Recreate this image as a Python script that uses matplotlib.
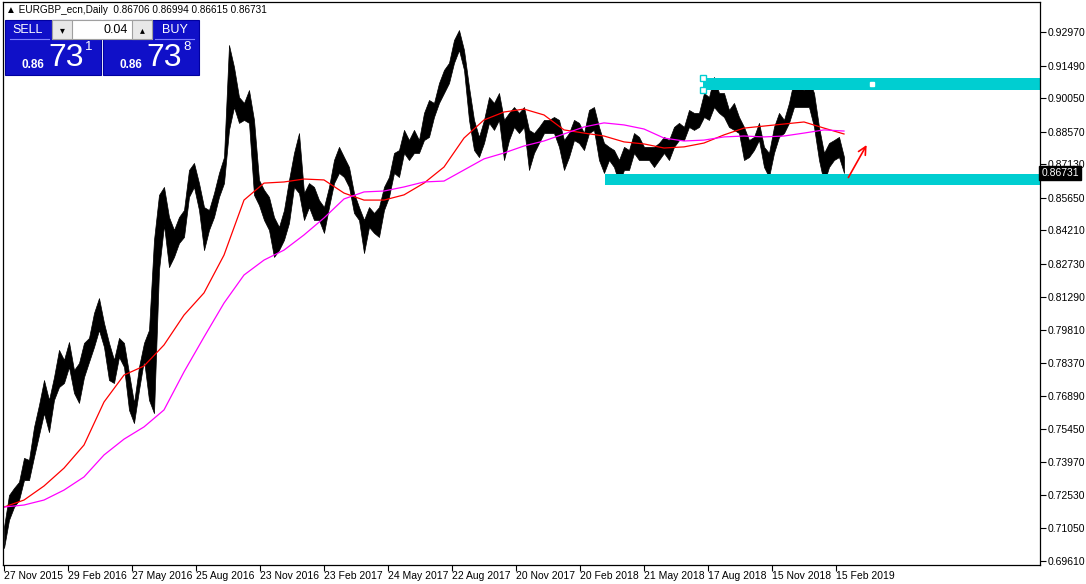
import numpy as np
import matplotlib
matplotlib.use('Agg')
import matplotlib.pyplot as plt
from matplotlib.patches import Rectangle

plt.rcParams['font.family'] = ['Liberation Sans', 'DejaVu Sans']

# EURGBP daily, sampled every 5 bars (high / low of each 5-bar block)
bars = np.arange(0, 845, 5)
high = [0.7111, 0.7252, 0.7283, 0.7310, 0.7416, 0.7407, 0.7552, 0.7650, 0.7760, 0.7672,
        0.7773, 0.7893, 0.7849, 0.7928, 0.7804, 0.7835, 0.7924, 0.7946, 0.8056, 0.8122,
        0.8012, 0.7924, 0.7849, 0.7946, 0.7924, 0.7791, 0.7659, 0.7818, 0.7924, 0.7981,
        0.8379, 0.8578, 0.8613, 0.8480, 0.8423, 0.8480, 0.8511, 0.8688, 0.8719, 0.8630,
        0.8524, 0.8511, 0.8586, 0.8675, 0.8745, 0.9240, 0.9143, 0.9010, 0.8984, 0.9041,
        0.8909, 0.8644, 0.8600, 0.8569, 0.8480, 0.8436, 0.8511, 0.8644, 0.8763, 0.8851,
        0.8586, 0.8630, 0.8613, 0.8555, 0.8524, 0.8613, 0.8732, 0.8790, 0.8745, 0.8701,
        0.8586, 0.8524, 0.8467, 0.8524, 0.8498, 0.8524, 0.8613, 0.8657, 0.8763, 0.8776,
        0.8865, 0.8820, 0.8865, 0.8820, 0.8940, 0.8997, 0.8984, 0.9072, 0.9130, 0.9161,
        0.9262, 0.9306, 0.9218, 0.9055, 0.8909, 0.8834, 0.8909, 0.9010, 0.8984, 0.9028,
        0.8909, 0.8940, 0.8966, 0.8940, 0.8966, 0.8865, 0.8851, 0.8878, 0.8909, 0.8909,
        0.8922, 0.8909, 0.8820, 0.8851, 0.8909, 0.8896, 0.8851, 0.8953, 0.8966, 0.8878,
        0.8807, 0.8790, 0.8776, 0.8732, 0.8790, 0.8776, 0.8851, 0.8834, 0.8790, 0.8790,
        0.8790, 0.8807, 0.8834, 0.8820, 0.8878, 0.8896, 0.8878, 0.8953, 0.8940, 0.8940,
        0.9028, 0.9010, 0.9099, 0.9028, 0.9028, 0.8953, 0.8984, 0.8922, 0.8878, 0.8820,
        0.8834, 0.8896, 0.8790, 0.8763, 0.8878, 0.8940, 0.8909, 0.8984, 0.9086, 0.9055,
        0.9041, 0.9086, 0.9028, 0.8878, 0.8763, 0.8807, 0.8820, 0.8834, 0.8745]
low = [0.7018, 0.7142, 0.7199, 0.7230, 0.7318, 0.7318, 0.7420, 0.7517, 0.7614, 0.7530,
       0.7672, 0.7729, 0.7747, 0.7818, 0.7703, 0.7659, 0.7773, 0.7840, 0.7906, 0.7981,
       0.7906, 0.7760, 0.7747, 0.7862, 0.7818, 0.7628, 0.7570, 0.7716, 0.7849, 0.7672,
       0.7614, 0.8246, 0.8445, 0.8259, 0.8304, 0.8365, 0.8392, 0.8569, 0.8613, 0.8511,
       0.8334, 0.8423, 0.8480, 0.8569, 0.8630, 0.8865, 0.8966, 0.8896, 0.8909, 0.8896,
       0.8578, 0.8533, 0.8467, 0.8423, 0.8304, 0.8334, 0.8379, 0.8454, 0.8613, 0.8586,
       0.8467, 0.8524, 0.8467, 0.8467, 0.8410, 0.8524, 0.8630, 0.8675, 0.8657, 0.8613,
       0.8498, 0.8467, 0.8321, 0.8436, 0.8410, 0.8392, 0.8511, 0.8569, 0.8675, 0.8657,
       0.8763, 0.8732, 0.8763, 0.8763, 0.8820, 0.8834, 0.8922, 0.8984, 0.9028, 0.9072,
       0.9161, 0.9218, 0.9130, 0.8909, 0.8776, 0.8745, 0.8807, 0.8896, 0.8865, 0.8909,
       0.8732, 0.8820, 0.8878, 0.8851, 0.8878, 0.8688, 0.8763, 0.8807, 0.8851, 0.8851,
       0.8851, 0.8790, 0.8688, 0.8745, 0.8820, 0.8807, 0.8776, 0.8851, 0.8865, 0.8732,
       0.8675, 0.8732, 0.8701, 0.8630, 0.8688, 0.8688, 0.8763, 0.8732, 0.8732, 0.8732,
       0.8701, 0.8732, 0.8763, 0.8732, 0.8790, 0.8820, 0.8820, 0.8878, 0.8865, 0.8878,
       0.8922, 0.8909, 0.8966, 0.8940, 0.8922, 0.8878, 0.8865, 0.8851, 0.8732, 0.8745,
       0.8776, 0.8820, 0.8701, 0.8657, 0.8763, 0.8834, 0.8851, 0.8896, 0.8966, 0.8966,
       0.8966, 0.8966, 0.8878, 0.8732, 0.8630, 0.8701, 0.8732, 0.8745, 0.8675]

# moving averages, every 20 bars
ma_bars = np.arange(0, 841, 20)
ma_red = [0.7199, 0.7230, 0.7292, 0.7371, 0.7473, 0.7663, 0.7782, 0.7822, 0.7915, 0.8047,
          0.8145, 0.8312, 0.8555, 0.8630, 0.8635, 0.8648, 0.8644, 0.8586, 0.8555, 0.8555,
          0.8578, 0.8630, 0.8701, 0.8829, 0.8909, 0.8944, 0.8957, 0.8931, 0.8865, 0.8851,
          0.8838, 0.8812, 0.8803, 0.8785, 0.8790, 0.8807, 0.8843, 0.8873, 0.8882, 0.8891,
          0.8900, 0.8873, 0.8847]
ma_magenta = [0.7199, 0.7208, 0.7230, 0.7274, 0.7332, 0.7429, 0.7499, 0.7553, 0.7628, 0.7796,
              0.7950, 0.8100, 0.8224, 0.8290, 0.8334, 0.8401, 0.8476, 0.8560, 0.8591, 0.8595,
              0.8613, 0.8635, 0.8639, 0.8688, 0.8737, 0.8763, 0.8794, 0.8816, 0.8847, 0.8878,
              0.8896, 0.8887, 0.8869, 0.8829, 0.8816, 0.8820, 0.8834, 0.8838, 0.8834, 0.8838,
              0.8851, 0.8865, 0.8860]

price_levels = [0.92970, 0.91490, 0.90050, 0.88570, 0.87130, 0.85650, 0.84210, 0.82730,
                0.81290, 0.79810, 0.78370, 0.76890, 0.75450, 0.73970, 0.72530, 0.71050, 0.69610]
date_bars = np.arange(0, 833, 64)
date_labels = ['27 Nov 2015', '29 Feb 2016', '27 May 2016', '25 Aug 2016', '23 Nov 2016',
               '23 Feb 2017', '24 May 2017', '22 Aug 2017', '20 Nov 2017', '20 Feb 2018',
               '21 May 2018', '17 Aug 2018', '15 Nov 2018', '15 Feb 2019']

last_price = 0.86731
resistance = (0.9041, 0.9094, 699)
support = (0.8622, 0.8670, 601)
turq = '#00CED1'

W, H = 1086, 584
fig = plt.figure(figsize=(W / 100, H / 100), dpi=100)
ax = fig.add_axes([3 / W, 19 / H, 1037 / W, 563 / H])

ax.fill_between(bars, low, high, color='black', lw=0.5)
ax.plot(ma_bars, ma_red, color='red', lw=0.9)
ax.plot(ma_bars, ma_magenta, color='magenta', lw=0.9)

for lo, hi, start in (resistance, support):
    ax.fill_between([start, 1040], lo, hi, color=turq, lw=0)
# rectangle handles
for yy in resistance[:2]:
    ax.plot([resistance[2]], [yy], marker='s', ms=4, mfc='white', mec=turq, mew=1)
ax.plot([868], [sum(resistance[:2]) / 2], marker='s', ms=2.5, color='white')

ax.annotate('', xy=(864, 0.8809), xytext=(843, 0.8644),
            arrowprops=dict(arrowstyle='->', color='red', lw=1.2, mutation_scale=14))

ax.set_xlim(-1, 1036)
ax.set_ylim(0.6943, 0.9430)
ax.yaxis.tick_right()
ax.set_yticks(price_levels)
ax.set_yticklabels(['%.5f' % v for v in price_levels])
ax.set_xticks(date_bars)
ax.set_xticklabels(date_labels, ha='left')
ax.tick_params(axis='both', direction='out', length=4, width=0.8, labelsize=7.5, pad=1.5)
ax.tick_params(axis='x', pad=0.5)
for s in ax.spines.values():
    s.set_linewidth(0.9)

ax.text(1.0015, last_price, '%.5f' % last_price, transform=ax.get_yaxis_transform(),
        color='white', fontsize=7.5, va='center', ha='left',
        bbox=dict(boxstyle='square,pad=0.2', fc='black', ec='black'))

# overlay in pixel coordinates for the header and the one-click trading panel
ov = fig.add_axes([0, 0, 1, 1], facecolor='none')
ov.set_xlim(0, W)
ov.set_ylim(H, 0)
ov.axis('off')

ov.text(6, 10, '\u25b2 EURGBP_ecn,Daily  0.86706 0.86994 0.86615 0.86731',
        fontsize=7.2, va='center', ha='left')

blue = '#1010c8'
for x0 in (5, 103):
    ov.add_patch(Rectangle((x0, 20), 96, 55, fc=blue, ec='#0000a0', lw=0.8))
    ov.plot([x0 + 5, x0 + 44] if x0 == 5 else [x0 + 52, x0 + 91], [39, 39], color='#8080ff', lw=0.8)
ov.add_patch(Rectangle((52, 20), 100, 19, fc='white', ec='#a0a0a0', lw=0.8))
ov.add_patch(Rectangle((52, 20), 20, 19, fc='#e8e8e8', ec='#a0a0a0', lw=0.8))
ov.add_patch(Rectangle((132, 20), 20, 19, fc='#e8e8e8', ec='#a0a0a0', lw=0.8))
ov.text(62, 30, '\u25be', fontsize=7, ha='center', va='center', family='DejaVu Sans')
ov.text(142, 30, '\u25b4', fontsize=7, ha='center', va='center', family='DejaVu Sans')
ov.text(128, 30, '0.04', fontsize=9, ha='right', va='center')
ov.text(28, 30, 'SELL', fontsize=9, color='white', ha='center', va='center')
ov.text(175, 30, 'BUY', fontsize=9, color='white', ha='center', va='center')
for x0, sup in ((5, '1'), (103, '8')):
    ov.text(x0 + 28, 65, '0.86', fontsize=8.5, color='white', weight='bold', ha='center', va='center')
    ov.text(x0 + 61, 58, '73', fontsize=23, color='white', ha='center', va='center')
    ov.text(x0 + 84, 47, sup, fontsize=9.5, color='white', ha='center', va='center')

fig.savefig('out.png', dpi=100)
